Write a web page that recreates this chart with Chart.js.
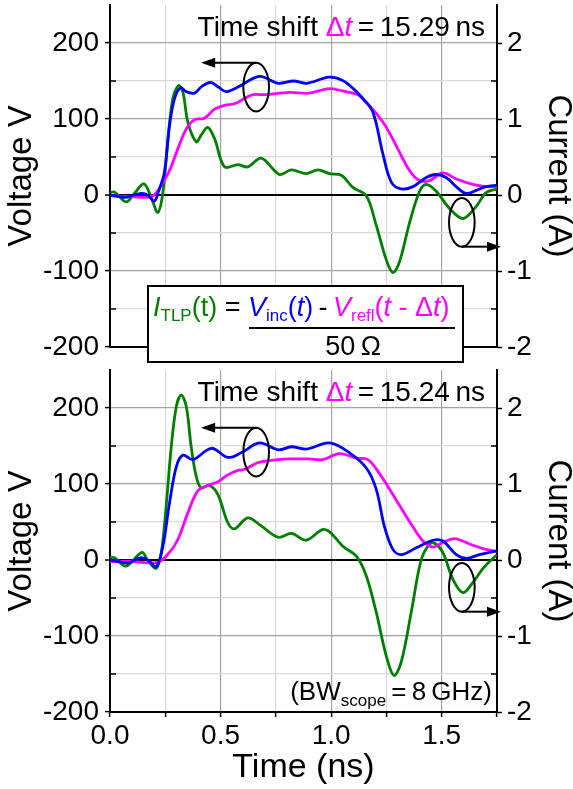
<!DOCTYPE html>
<html>
<head>
<meta charset="utf-8">
<script src="https://cdn.jsdelivr.net/npm/chart.js@4.4.0/dist/chart.umd.min.js"></script>
<style>
  html, body { margin: 0; padding: 0; background: #fff; }
  #wrap { position: relative; width: 573px; height: 789px; }
  canvas { position: absolute; left: 0; }
  #top { top: 0; }
  #bottom { top: 365px; }
</style>
</head>
<body>
<div id="wrap">
  <canvas id="top" width="573" height="370"></canvas>
  <canvas id="bottom" width="573" height="424"></canvas>
</div>
<script>
// top panel (time shift 15.29 ns)
var incT1 = [0, 0.04, 0.07, 0.1, 0.14, 0.17, 0.2, 0.22, 0.246, 0.269, 0.292, 0.319, 0.345, 0.382, 0.415, 0.455, 0.49, 0.525, 0.578, 0.676, 0.76, 0.83, 0.89, 0.99, 1.05, 1.1, 1.143, 1.189, 1.234, 1.272, 1.317, 1.37, 1.43, 1.475, 1.52, 1.573, 1.611, 1.656, 1.70, 1.75];
var incV1 = [0, -2, -3, -1, 2, 0, -8, 5, 30, 91, 127, 141, 136, 134, 143, 148, 142, 136, 142, 156, 147, 150, 147, 155, 151, 140, 127, 109, 54, 17, 8, 11, 23, 27, 23, 9, 2, 6, 11, 13];
var reflT1 = [0, 0.08, 0.16, 0.2, 0.23, 0.269, 0.307, 0.345, 0.382, 0.427, 0.473, 0.518, 0.563, 0.608, 0.646, 0.7, 0.81, 0.9, 0.99, 1.05, 1.12, 1.143, 1.234, 1.294, 1.355, 1.40, 1.445, 1.505, 1.566, 1.64, 1.70, 1.75];
var reflV1 = [-1, -2, -3, 0, 12, 32, 61, 87, 99, 101, 113, 118, 120, 127, 132, 132, 135, 134, 140, 137, 132, 127, 96, 65, 32, 19, 19, 29, 21, 14, 11, 11];
var tlpT1 = [0, 0.02, 0.073, 0.11, 0.153, 0.186, 0.216, 0.239, 0.261, 0.284, 0.31, 0.33, 0.352, 0.39, 0.413, 0.442, 0.473, 0.518, 0.578, 0.623, 0.684, 0.766, 0.82, 0.887, 0.94, 0.993, 1.046, 1.098, 1.159, 1.204, 1.249, 1.279, 1.309, 1.355, 1.40, 1.43, 1.475, 1.536, 1.596, 1.656, 1.70, 1.75];
var tlpI1 = [0.03, 0.04, -0.09, 0.02, 0.145, -0.03, -0.23, 0.03, 0.70, 1.27, 1.44, 1.35, 0.96, 0.70, 0.79, 0.89, 0.74, 0.37, 0.40, 0.37, 0.485, 0.27, 0.33, 0.28, 0.33, 0.28, 0.26, 0.10, -0.01, -0.40, -0.85, -1.02, -0.88, -0.36, 0.05, 0.14, 0.05, -0.18, -0.31, -0.15, 0.03, 0.08];

// bottom panel (time shift 15.24 ns)
var incT2 = [0, 0.04, 0.08, 0.141, 0.175, 0.209, 0.239, 0.269, 0.30, 0.33, 0.375, 0.458, 0.533, 0.593, 0.676, 0.76, 0.82, 0.887, 0.993, 1.083, 1.159, 1.204, 1.241, 1.279, 1.317, 1.385, 1.46, 1.505, 1.566, 1.611, 1.67, 1.75];
var incV2 = [0, -2, -4, 3, -1, -9, 18, 75, 123, 138, 132, 147, 135, 141, 154, 145, 149, 146, 154, 141, 121, 93, 44, 14, 7, 16, 26, 25, 7, 2, 7, 12];
var reflT2 = [0, 0.1, 0.216, 0.269, 0.307, 0.352, 0.397, 0.442, 0.488, 0.533, 0.578, 0.608, 0.668, 0.728, 0.81, 0.9, 0.96, 1.038, 1.114, 1.166, 1.218, 1.294, 1.369, 1.415, 1.46, 1.505, 1.558, 1.626, 1.686, 1.75];
var reflV2 = [-2, -2, -3, 10, 27, 62, 91, 98, 103, 112, 118, 119, 128, 131, 133, 133, 132, 140, 134, 132, 114, 79, 44, 25, 17, 23, 28, 21, 15, 11];
var tlpT2 = [0, 0.02, 0.073, 0.144, 0.17, 0.209, 0.232, 0.254, 0.277, 0.30, 0.322, 0.345, 0.367, 0.39, 0.412, 0.45, 0.488, 0.533, 0.563, 0.623, 0.683, 0.76, 0.82, 0.887, 0.96, 0.993, 1.053, 1.114, 1.159, 1.204, 1.249, 1.284, 1.317, 1.362, 1.407, 1.445, 1.468, 1.505, 1.55, 1.596, 1.64, 1.69, 1.75];
var tlpI2 = [0.03, 0.03, -0.08, 0.10, 0, -0.11, 0.1, 0.71, 1.49, 2.02, 2.17, 2.02, 1.49, 1.10, 0.95, 0.98, 0.86, 0.49, 0.41, 0.555, 0.45, 0.30, 0.35, 0.26, 0.40, 0.37, 0.18, 0.05, -0.21, -0.69, -1.26, -1.52, -1.34, -0.69, 0.0, 0.21, 0.22, 0.10, -0.25, -0.43, -0.30, -0.10, 0.07];

var FONT = "'Liberation Sans', Arial, Helvetica, sans-serif";
var BLUE = '#0000ff', MAGENTA = '#ff00ff', GREEN = '#008000';

function pts(ts, vs) {
    return ts.map(function(t, i) { return {x: t, y: vs[i]}; });
}
function isMult(v, step) {
    return Math.abs(v / step - Math.round(v / step)) < 1e-6;
}
function R(text, color, size, italic, dy) {
    return {text: text, color: color, size: size, italic: !!italic, dy: dy || 0};
}
function setFont(ctx, r) {
    ctx.font = (r.italic ? 'italic ' : '') + r.size + 'px ' + FONT;
}
function runsWidth(ctx, runs) {
    var w = 0;
    runs.forEach(function(r) { setFont(ctx, r); w += ctx.measureText(r.text).width; });
    return w;
}
function drawRuns(ctx, runs, x, y) {
    ctx.textAlign = 'left';
    ctx.textBaseline = 'alphabetic';
    runs.forEach(function(r) {
        setFont(ctx, r);
        ctx.fillStyle = r.color;
        ctx.fillText(r.text, x, y + r.dy);
        x += ctx.measureText(r.text).width;
    });
}
function arrow(ctx, x1, y, x2) {
    var dir = x2 > x1 ? 1 : -1;
    ctx.beginPath();
    ctx.moveTo(x1, y);
    ctx.lineTo(x2 - dir * 8, y);
    ctx.stroke();
    ctx.beginPath();
    ctx.moveTo(x2, y);
    ctx.lineTo(x2 - dir * 14, y - 5);
    ctx.lineTo(x2 - dir * 14, y + 5);
    ctx.closePath();
    ctx.fill();
}

var panelNotes = {
    id: 'panelNotes',
    afterDraw: function(chart, args, opts) {
        var ctx = chart.ctx, ca = chart.chartArea;
        var sx = chart.scales.x, sy = chart.scales.y;
        ctx.save();
        ctx.strokeStyle = '#000';
        ctx.fillStyle = '#000';
        ctx.lineWidth = 1.5;

        // minor ticks pointing inward
        [-150, -50, 50, 150].forEach(function(v) {
            var y = sy.getPixelForValue(v);
            ctx.beginPath();
            ctx.moveTo(ca.left, y); ctx.lineTo(ca.left + 6, y);
            ctx.moveTo(ca.right - 6, y); ctx.lineTo(ca.right, y);
            ctx.stroke();
        });

        // ellipses with arrows pointing to their axis
        ctx.lineWidth = 2;
        var rx = sx.getPixelForValue(0.058) - sx.getPixelForValue(0);
        var ry = sy.getPixelForValue(0) - sy.getPixelForValue(32);
        var cx = sx.getPixelForValue(0.661), cy = sy.getPixelForValue(142);
        ctx.beginPath(); ctx.ellipse(cx, cy, rx, ry, 0, 0, Math.PI * 2); ctx.stroke();
        arrow(ctx, cx, cy - ry, sx.getPixelForValue(0.412));
        cx = sx.getPixelForValue(1.591); cy = sy.getPixelForValue(-36);
        ctx.beginPath(); ctx.ellipse(cx, cy, rx, ry, 0, 0, Math.PI * 2); ctx.stroke();
        arrow(ctx, cx, cy + ry, sx.getPixelForValue(1.768));

        // time shift text
        var shift = [R('Time shift ', '#000', 28), R('\u0394', MAGENTA, 28), R('t', MAGENTA, 28, true),
            R('\u2009=\u2009' + opts.shift + '\u2009ns', '#000', 28)];
        drawRuns(ctx, shift, ca.right - 12 - runsWidth(ctx, shift), ca.top + 31);

        if (opts.formula) {
            var bx = ca.left + 38, by = ca.bottom - 61, bw = 315, bh = 76;
            ctx.fillStyle = '#fff';
            ctx.fillRect(bx, by, bw, bh);
            ctx.lineWidth = 2;
            ctx.strokeRect(bx, by, bw, bh);
            var line1 = [
                R('I', GREEN, 27, true), R('TLP', GREEN, 17, false, 5), R('(t)', GREEN, 27),
                R(' = ', '#000', 27),
                R('V', BLUE, 27, true), R('inc', BLUE, 17, false, 5), R('(', BLUE, 27), R('t', BLUE, 27, true), R(')', BLUE, 27),
                R('\u2009-\u2009', '#000', 27),
                R('V', MAGENTA, 27, true), R('refl', MAGENTA, 17, false, 5), R('(', MAGENTA, 27), R('t', MAGENTA, 27, true),
                R(' - ', MAGENTA, 27), R('\u0394', MAGENTA, 27), R('t', MAGENTA, 27, true), R(')', MAGENTA, 27)
            ];
            drawRuns(ctx, line1, bx + 5, by + 30);
            ctx.beginPath();
            ctx.moveTo(bx + 101, by + 42);
            ctx.lineTo(bx + 307, by + 42);
            ctx.stroke();
            var den = [R('50\u2009\u03a9', '#000', 27)];
            drawRuns(ctx, den, bx + 205 - runsWidth(ctx, den) / 2, by + 69);
        }

        if (opts.bw) {
            var bwRuns = [R('(BW', '#000', 26), R('scope', '#000', 17, false, 6), R('\u2009=\u20098\u2009GHz)', '#000', 26)];
            drawRuns(ctx, bwRuns, ca.right - 5 - runsWidth(ctx, bwRuns), ca.bottom - 12);
        }
        ctx.restore();
    }
};

function fixWidth(w) {
    return function(s) { s.width = w; s.paddingTop = 0; s.paddingBottom = 0; };
}
function fixHeight(h) {
    return function(s) { s.height = h; s.paddingLeft = 0; s.paddingRight = 0; };
}

function makePanel(id, inc, refl, tlp, shift, bottomAxis) {
    var tickFont = {family: FONT, size: 28};
    return new Chart(document.getElementById(id), {
        type: 'line',
        data: {
            datasets: [
                {label: 'V_inc', data: inc, borderColor: BLUE, yAxisID: 'y'},
                {label: 'V_refl', data: refl, borderColor: MAGENTA, yAxisID: 'y'},
                {label: 'I_TLP', data: tlp, borderColor: GREEN, yAxisID: 'y2'}
            ]
        },
        options: {
            responsive: false,
            animation: false,
            devicePixelRatio: 1,
            layout: {padding: {top: 5, left: 0, right: 0, bottom: 0}},
            elements: {
                line: {borderWidth: 2.8, tension: 0.35, fill: false, borderJoinStyle: 'round'},
                point: {radius: 0}
            },
            plugins: {
                legend: {display: false},
                tooltip: {enabled: false},
                panelNotes: {shift: shift, formula: !bottomAxis, bw: bottomAxis}
            },
            scales: {
                x: {
                    type: 'linear', min: 0, max: 1.75,
                    border: {color: '#000', width: 2},
                    grid: {
                        color: function(c) {
                            var v = c.tick.value;
                            if (v <= 0 || v >= 1.75) return 'rgba(0,0,0,0)';
                            return isMult(v, 0.5) ? '#a3a3a3' : '#d9d9d9';
                        },
                        lineWidth: 1.2,
                        drawTicks: bottomAxis,
                        tickLength: 5,
                        tickColor: '#000',
                        tickWidth: 1.5
                    },
                    ticks: {
                        stepSize: 0.25, autoSkip: false, maxRotation: 0,
                        font: tickFont, color: '#000', padding: 2,
                        callback: function(v) {
                            return bottomAxis && isMult(v, 0.5) ? v.toFixed(1) : '';
                        }
                    },
                    title: {
                        display: bottomAxis, text: 'Time (ns)', color: '#000',
                        font: {family: FONT, size: 34, lineHeight: 1},
                        padding: {top: 0, bottom: 4}
                    },
                    afterFit: fixHeight(bottomAxis ? 77 : 23)
                },
                y: {
                    position: 'left', min: -200, max: 250,
                    border: {color: '#000', width: 2},
                    grid: {
                        color: function(c) {
                            var v = c.tick.value;
                            if (v === 0) return '#000';
                            if (v <= -200 || v >= 250) return 'rgba(0,0,0,0)';
                            return isMult(v, 100) ? '#a3a3a3' : '#d9d9d9';
                        },
                        lineWidth: function(c) { return c.tick.value === 0 ? 2 : 1.2; },
                        tickLength: 5,
                        tickColor: function(c) {
                            var v = c.tick.value;
                            return isMult(v, 100) && v <= 200 ? '#000' : 'rgba(0,0,0,0)';
                        },
                        tickWidth: 1.5
                    },
                    ticks: {
                        stepSize: 50, autoSkip: false, font: tickFont, color: '#000', padding: 6,
                        callback: function(v) { return isMult(v, 100) && v <= 200 ? String(v) : ''; }
                    },
                    title: {
                        display: true, text: 'Voltage V', color: '#000',
                        font: {family: FONT, size: 33, lineHeight: 1},
                        padding: {top: 5, bottom: 0}
                    },
                    afterFit: fixWidth(110)
                },
                y2: {
                    position: 'right', min: -2, max: 2.5,
                    border: {color: '#000', width: 2},
                    grid: {
                        drawOnChartArea: false,
                        tickLength: 5,
                        tickColor: function(c) {
                            var v = c.tick.value;
                            return isMult(v, 1) && v <= 2 ? '#000' : 'rgba(0,0,0,0)';
                        },
                        tickWidth: 1.5
                    },
                    ticks: {
                        stepSize: 0.5, autoSkip: false, font: tickFont, color: '#000', padding: 5,
                        callback: function(v) { return isMult(v, 1) && v <= 2 ? String(Math.round(v)) : ''; }
                    },
                    title: {
                        display: true, text: 'Current (A)', color: '#000',
                        font: {family: FONT, size: 33, lineHeight: 0.9},
                        padding: {top: 0, bottom: 0}
                    },
                    afterFit: fixWidth(76)
                }
            }
        },
        plugins: [panelNotes]
    });
}

makePanel('top', pts(incT1, incV1), pts(reflT1, reflV1), pts(tlpT1, tlpI1), '15.29', false);
makePanel('bottom', pts(incT2, incV2), pts(reflT2, reflV2), pts(tlpT2, tlpI2), '15.24', true);
</script>
</body>
</html>
